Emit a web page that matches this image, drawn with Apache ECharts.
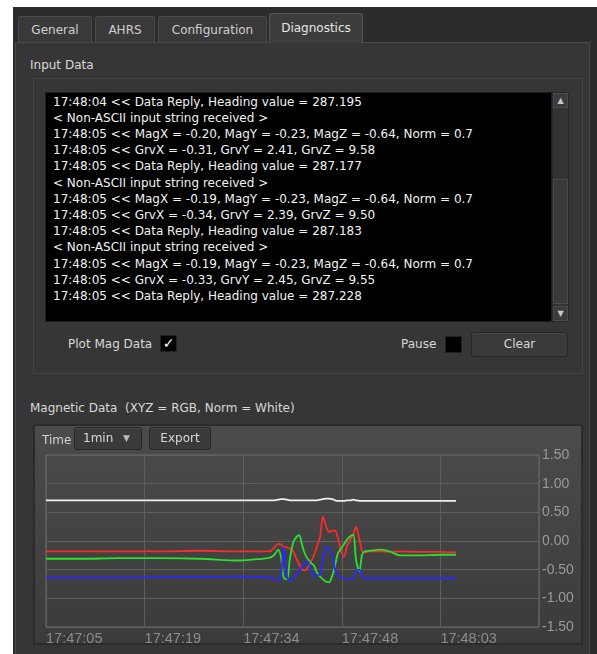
<!DOCTYPE html>
<html>
<head>
<meta charset="utf-8">
<script src="https://cdn.jsdelivr.net/npm/echarts@6/dist/echarts.min.js"></script>
<style>
  html, body { margin:0; padding:0; width:597px; height:654px; overflow:hidden; background:#ffffff; }
  body { position:relative; font-family:"DejaVu Sans", sans-serif; font-size:12px; color:#d8d8d8; }
  .abs { position:absolute; }
  .lbl { position:absolute; line-height:16px; white-space:nowrap; }
  #win { left:13px; top:7px; width:584px; height:647px; background:#2c2c2c; }
  .tab { position:absolute; top:16px; height:26px; background:#393939; border:1px solid #4a4a4a; border-bottom:none; border-radius:3px 3px 0 0; box-sizing:border-box; text-align:center; line-height:26px; color:#cfcfcf; }
  .tab.sel { top:13px; height:30px; background:#3d3d3d; border-color:#555; color:#e6e6e6; line-height:28px; z-index:3; }
  #pane { left:15px; top:42px; width:575px; height:620px; background:#363636; border:1px solid #484848; box-sizing:border-box; }
  #grpIn { left:33px; top:78px; width:550px; height:296px; border:1px solid #434343; border-radius:2px; box-sizing:border-box; }
  #console { left:45px; top:92px; width:507px; height:230px; background:#000; border:1px solid #1e1e1e; box-sizing:border-box; }
  #console .ln { position:absolute; left:7px; line-height:16.25px; white-space:pre; color:#f2f2f2; }
  #sb { left:552px; top:92px; width:17px; height:230px; background:#343434; border:1px solid #2a2a2a; box-sizing:border-box; }
  .sbtn { position:absolute; left:0; width:15px; height:15px; background:#3c3c3c; border:1px solid #4a4a4a; box-sizing:border-box; color:#c8c8c8; font-size:8px; text-align:center; line-height:14px; }
  #thumb { position:absolute; left:0; top:86px; width:15px; height:125px; background:#393939; border:1px solid #4c4c4c; box-sizing:border-box; }
  .chk { position:absolute; width:17px; height:17px; background:#000; border:1px solid #222; box-sizing:border-box; color:#fff; text-align:center; line-height:15px; font-size:14px; }
  .btn { position:absolute; background:#3a3a3a; border:1px solid #262626; border-radius:3px; box-sizing:border-box; text-align:center; color:#d8d8d8; box-shadow: inset 0 1px 0 #474747; }
  #panel { left:33px; top:424px; width:550px; height:221px; border:2px solid #2b2b2b; box-sizing:border-box; background:linear-gradient(#4b4b4b, #3b3b3b); }
  #chart { left:35px; top:426px; width:546px; height:228px; }
</style>
</head>
<body>
<div id="win" class="abs"></div>
<div id="pane" class="abs"></div>
<div class="tab" style="left:18px;width:74px;">General</div>
<div class="tab" style="left:95px;width:60px;">AHRS</div>
<div class="tab" style="left:158px;width:109px;">Configuration</div>
<div class="tab sel" style="left:269px;width:94px;">Diagnostics</div>

<div class="lbl" style="left:30px;top:57px;">Input Data</div>
<div id="grpIn" class="abs"></div>
<div id="console" class="abs"></div>
<div id="sb" class="abs">
  <div class="sbtn" style="top:0;">&#9650;</div>
  <div id="thumb"></div>
  <div class="sbtn" style="top:213px;">&#9660;</div>
</div>

<div class="lbl" style="left:68px;top:336px;">Plot Mag Data</div>
<div class="chk" style="left:160px;top:335px;">&#10003;</div>
<div class="lbl" style="left:401px;top:336px;">Pause</div>
<div class="chk" style="left:445px;top:336px;"></div>
<div class="btn" style="left:471px;top:332px;width:97px;height:25px;line-height:23px;">Clear</div>

<div class="lbl" style="left:30px;top:400px;">Magnetic Data&nbsp;&nbsp;(XYZ = RGB, Norm = White)</div>
<div id="panel" class="abs"></div>
<div id="chart" class="abs"></div>
<div class="lbl" style="left:42px;top:432px;color:#d0d0d0;z-index:5;">Time</div>
<div class="btn" style="left:74px;top:427px;width:68px;height:23px;line-height:21px;text-align:left;padding-left:8px;z-index:5;">1min<span style="position:absolute;left:48px;top:0;font-size:9px;color:#bbb;">&#9660;</span></div>
<div class="btn" style="left:149px;top:427px;width:62px;height:23px;line-height:21px;z-index:5;">Export</div>

<script>
// ---- data ----
const consoleLines = [
  "17:48:04 << Data Reply, Heading value = 287.195",
  "< Non-ASCII input string received >",
  "17:48:05 << MagX = -0.20, MagY = -0.23, MagZ = -0.64, Norm = 0.7",
  "17:48:05 << GrvX = -0.31, GrvY = 2.41, GrvZ = 9.58",
  "17:48:05 << Data Reply, Heading value = 287.177",
  "< Non-ASCII input string received >",
  "17:48:05 << MagX = -0.19, MagY = -0.23, MagZ = -0.64, Norm = 0.7",
  "17:48:05 << GrvX = -0.34, GrvY = 2.39, GrvZ = 9.50",
  "17:48:05 << Data Reply, Heading value = 287.183",
  "< Non-ASCII input string received >",
  "17:48:05 << MagX = -0.19, MagY = -0.23, MagZ = -0.64, Norm = 0.7",
  "17:48:05 << GrvX = -0.33, GrvY = 2.45, GrvZ = 9.55",
  "17:48:05 << Data Reply, Heading value = 287.228"
];

// seconds after 17:47:05
const times = [0, 5.0, 11.0, 16.9, 22.8, 28.7, 32.0, 33.2, 33.8, 34.4, 34.8, 35.2, 35.7, 36.1, 36.6, 37.0, 37.5, 37.9, 38.4, 38.8, 39.2, 39.7, 40.1, 40.6, 41.0, 41.5, 41.9, 42.4, 42.8, 43.2, 43.7, 44.1, 44.6, 45.0, 45.5, 45.9, 46.4, 46.8, 47.2, 48.0, 49.5, 50.9, 52.4, 55.4, 58.4, 60.7];

const normValues = [0.71, 0.71, 0.71, 0.71, 0.71, 0.71, 0.71, 0.71, 0.71, 0.72, 0.73, 0.73, 0.72, 0.71, 0.71, 0.71, 0.71, 0.71, 0.71, 0.71, 0.71, 0.71, 0.71, 0.72, 0.73, 0.74, 0.74, 0.73, 0.71, 0.70, 0.70, 0.70, 0.71, 0.71, 0.72, 0.71, 0.70, 0.70, 0.70, 0.70, 0.70, 0.70, 0.70, 0.70, 0.70, 0.70];

const magX = [-0.18, -0.18, -0.18, -0.18, -0.17, -0.18, -0.18, -0.18, -0.11, -0.05, -0.06, -0.10, -0.11, -0.13, -0.18, -0.29, -0.41, -0.50, -0.51, -0.45, -0.37, -0.24, -0.10, 0.08, 0.43, 0.25, 0.16, 0.18, 0.18, 0.06, -0.18, -0.27, -0.08, 0.01, 0.11, 0.25, 0.03, -0.17, -0.20, -0.18, -0.18, -0.19, -0.18, -0.19, -0.19, -0.20];

const magY = [-0.31, -0.31, -0.30, -0.30, -0.31, -0.34, -0.31, -0.29, -0.24, -0.15, -0.29, -0.64, -0.67, -0.32, -0.03, 0.06, 0.10, -0.06, -0.24, -0.32, -0.38, -0.43, -0.55, -0.62, -0.67, -0.71, -0.72, -0.60, -0.43, -0.22, -0.13, -0.06, 0.03, 0.08, 0.11, -0.32, -0.53, -0.24, -0.18, -0.17, -0.15, -0.18, -0.25, -0.25, -0.24, -0.24];

const magZ = [-0.64, -0.64, -0.64, -0.63, -0.63, -0.62, -0.63, -0.64, -0.65, -0.69, -0.60, -0.11, -0.64, -0.69, -0.65, -0.58, -0.51, -0.45, -0.38, -0.36, -0.50, -0.62, -0.60, -0.58, -0.32, -0.10, -0.13, -0.24, -0.50, -0.60, -0.64, -0.65, -0.67, -0.67, -0.67, -0.53, -0.50, -0.62, -0.65, -0.65, -0.65, -0.65, -0.65, -0.65, -0.65, -0.65];

const xTickLabels = ["17:47:05", "17:47:19", "17:47:34", "17:47:48", "17:48:03", ""];
const yTickLabels = ["-1.50", "-1.00", "-0.50", "0.00", "0.50", "1.00", "1.50"];

// ---- console text ----
const con = document.getElementById('console');
consoleLines.forEach((t, i) => {
  const d = document.createElement('div');
  d.className = 'ln';
  d.style.top = (0.5 + i * 16.2) + 'px';
  d.textContent = t;
  con.appendChild(d);
});

// ---- chart ----
const X_STEP = 14.6, X_MAX = 73, Y_MIN = -1.5, Y_STEP = 0.5;
const pairs = vals => times.map((t, i) => [t, vals[i]]);
const chart = echarts.init(document.getElementById('chart'), null, { renderer: 'canvas' });
const lineSeries = (name, vals, color) => ({
  name, type: 'line', data: pairs(vals), showSymbol: false, symbol: 'none',
  smooth: 0.3, lineStyle: { color, width: 1.8 }, itemStyle: { color }, animation: false
});
chart.setOption({
  backgroundColor: 'transparent',
  animation: false,
  grid: { left: 11, top: 29, width: 493, height: 172, outerBoundsMode: 'none', containLabel: false, show: true, borderColor: '#6c6c6c', borderWidth: 1, backgroundColor: 'transparent' },
  xAxis: {
    type: 'value', min: 0, max: X_MAX, interval: X_STEP,
    axisLine: { show: false }, axisTick: { show: false },
    splitLine: { show: true, lineStyle: { color: '#5e5e5e', width: 1 } },
    axisLabel: {
      showMinLabel: true, showMaxLabel: true, align: 'left', margin: 4,
      color: '#8c8c8c', fontSize: 14.5, fontFamily: 'Liberation Sans',
      formatter: v => xTickLabels[Math.round(v / X_STEP)] || ''
    }
  },
  yAxis: {
    type: 'value', position: 'right', min: Y_MIN, max: 1.5, interval: Y_STEP,
    axisLine: { show: false }, axisTick: { show: false },
    splitLine: { show: true, lineStyle: { color: '#5e5e5e', width: 1 } },
    axisLabel: {
      showMinLabel: true, showMaxLabel: true, margin: 3,
      color: '#9a9a9a', fontSize: 14, fontFamily: 'Liberation Sans',
      formatter: v => yTickLabels[Math.round((v - Y_MIN) / Y_STEP)]
    }
  },
  series: [
    lineSeries('Norm', normValues, '#f0f0f0'),
    lineSeries('MagX', magX, '#ff2a2a'),
    lineSeries('MagY', magY, '#2ae02a'),
    lineSeries('MagZ', magZ, '#2a2aff')
  ]
});
</script>
</body>
</html>
